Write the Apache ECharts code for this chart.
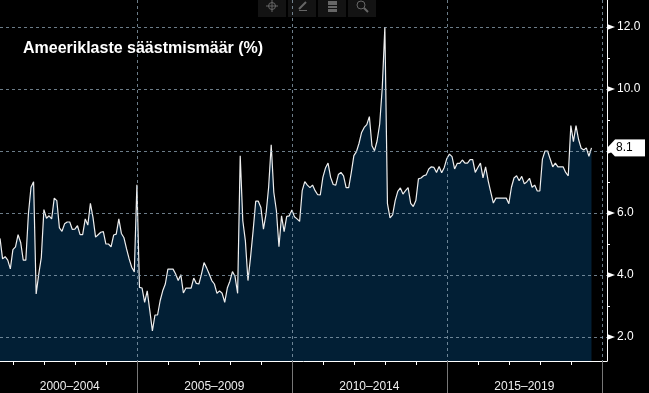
<!DOCTYPE html>
<html>
<head>
<meta charset="utf-8">
<script src="https://cdn.jsdelivr.net/npm/echarts@6/dist/echarts.min.js"></script>
<style>
html, body { margin: 0; padding: 0; background: #000; }
#main { width: 649px; height: 393px; }
</style>
</head>
<body>
<div id="main"></div>
<script>
// monthly saving rate, first point 2000-08
var savingRate = [
    5.18, 4.52, 4.59, 4.48, 4.2, 4.82, 4.91, 5.3, 5.05, 4.48, 4.48, 5.97, 6.83, 7.01, 3.39, 4.03,
    4.57, 6.11, 5.83, 5.91, 5.81, 6.48, 6.4, 5.52, 5.41, 5.65, 5.71, 5.71, 5.47, 5.48, 5.59, 5.3,
    5.3, 5.81, 5.61, 6.31, 5.86, 5.22, 5.3, 5.38, 5.4, 5.0, 5.0, 4.91, 5.29, 5.32, 5.81, 5.34,
    5.2, 4.84, 4.52, 4.25, 4.1, 6.91, 3.6, 3.58, 3.12, 3.49, 2.85, 2.2, 2.71, 2.71, 3.17, 3.49,
    3.71, 4.19, 4.19, 4.19, 4.03, 3.82, 4.01, 3.42, 3.58, 3.58, 3.58, 3.9, 3.73, 3.71, 4.03, 4.4,
    4.23, 4.03, 3.82, 3.71, 3.41, 3.49, 3.41, 3.12, 3.58, 3.8, 4.11, 3.95, 3.41, 7.85, 5.75, 5.1,
    3.82, 4.57, 5.43, 6.38, 6.38, 6.18, 5.48, 5.97, 6.83, 8.2, 6.67, 6.08, 4.91, 5.91, 5.4, 5.89,
    5.91, 6.1, 5.88, 5.81, 5.73, 6.72, 7.01, 6.9, 6.82, 6.9, 6.72, 6.59, 6.58, 7.15, 7.45, 7.61,
    7.15, 6.92, 6.9, 7.24, 7.31, 7.2, 6.82, 6.82, 7.3, 7.85, 7.98, 8.25, 8.6, 8.76, 8.85, 9.11,
    8.17, 8.01, 8.33, 8.87, 10.05, 12.0, 6.3, 5.84, 5.94, 6.4, 6.7, 6.81, 6.61, 6.72, 6.82, 6.31,
    6.21, 6.4, 7.1, 7.13, 7.2, 7.23, 7.42, 7.49, 7.47, 7.31, 7.5, 7.3, 7.47, 7.76, 7.9, 7.82,
    7.42, 7.6, 7.6, 7.71, 7.61, 7.61, 7.72, 7.72, 7.31, 7.47, 7.61, 7.13, 7.49, 7.04, 6.67, 6.32,
    6.48, 6.48, 6.48, 6.48, 6.48, 6.3, 6.83, 7.13, 7.2, 7.04, 7.18, 6.94, 7.01, 7.12, 6.83, 6.9,
    6.71, 6.71, 7.74, 8.0, 8.0, 7.74, 7.49, 7.61, 7.49, 7.49, 7.49, 7.31, 7.2, 8.82, 8.3, 8.82,
    8.37, 8.09, 8.03, 8.1, 7.83, 8.1
];
var lastValue = 8.1;
var yMajorTicks = [2, 4, 6, 8, 10, 12];
var yAllTicks = [2, 3, 4, 5, 6, 7, 8, 9, 10, 11, 12];
var periodLabels = { '2002-11': '2000–2004', '2007-07': '2005–2009', '2012-07': '2010–2014', '2017-07': '2015–2019' };

var months = [];
for (var y = 2000; y <= 2020; y++) {
    for (var m = 1; m <= 12; m++) {
        var ym = y * 100 + m;
        if (ym >= 200008 && ym <= 202003) {
            months.push(y + '-' + (m < 10 ? '0' + m : m));
        }
    }
}
var lastMonth = months[months.length - 1];

function isYearStart(i) { return months[i].slice(5) === '01'; }
function isPeriodStart(i) { return isYearStart(i) && Number(months[i].slice(0, 4)) % 5 === 0; }

var dashColor = 'rgba(150,172,188,0.72)';
var toolbarX = [258, 288, 318, 348];

var myChart = echarts.init(document.getElementById('main'));
var option = {
    backgroundColor: '#000',
    animation: false,
    title: {
        text: 'Ameeriklaste säästmismäär (%)',
        left: 18,
        top: 36,
        textStyle: { color: '#fff', fontFamily: 'Liberation Sans', fontWeight: 'bold', fontSize: 16 }
    },
    grid: { left: -1, right: 42, top: 0, bottom: 32 },
    xAxis: [
        {
            type: 'category',
            data: months,
            boundaryGap: false,
            axisLine: { lineStyle: { color: '#fff', width: 1 } },
            axisTick: { length: 4, interval: function (i) { return isYearStart(i); }, lineStyle: { color: '#fff' } },
            axisLabel: { show: false },
            splitLine: { show: false }
        },
        {
            type: 'category',
            data: months,
            position: 'bottom',
            boundaryGap: false,
            z: 5,
            axisLine: { show: false },
            axisTick: { show: true, length: 32, interval: function (i) { return isPeriodStart(i); }, lineStyle: { color: '#777' } },
            axisLabel: {
                show: true,
                margin: 20,
                interval: function (i, v) { return periodLabels[v] !== undefined; },
                formatter: function (v) { return periodLabels[v] || ''; },
                color: '#eee',
                fontFamily: 'Liberation Sans',
                fontSize: 12
            },
            splitLine: {
                show: true,
                interval: function (i) { return isPeriodStart(i); },
                lineStyle: { color: dashColor, type: [3, 3], width: 1 }
            }
        }
    ],
    yAxis: [
        {
            type: 'value',
            position: 'right',
            min: 1.226,
            max: 12.871,
            axisLine: { show: true, lineStyle: { color: '#fff', width: 1 } },
            axisTick: { show: true, length: 3, customValues: yAllTicks, lineStyle: { color: '#fff' } },
            axisLabel: {
                show: true,
                margin: 10,
                padding: [2, 0, 0, 0],
                customValues: yMajorTicks,
                formatter: function (v) { return v.toFixed(1); },
                color: '#fff',
                fontFamily: 'Liberation Sans',
                fontSize: 12
            },
            splitLine: { show: false }
        },
        {
            type: 'value',
            position: 'right',
            min: 1.226,
            max: 12.871,
            z: 5,
            axisLine: { show: false },
            axisTick: { show: false, customValues: yMajorTicks },
            axisLabel: { show: false, customValues: yMajorTicks },
            splitLine: { show: true, lineStyle: { color: dashColor, type: [3, 3], width: 1 } }
        }
    ],
    series: [
        {
            type: 'line',
            data: savingRate,
            symbol: 'none',
            lineStyle: { color: '#eee', width: 1.2 },
            areaStyle: { color: '#021f35', opacity: 1, origin: 'start' }
        },
        {
            // flags on the price axis
            type: 'scatter',
            data: yMajorTicks.map(function (v) { return [lastMonth, v]; }),
            clip: false,
            z: 6,
            symbol: 'triangle',
            symbolSize: [6, 8],
            symbolRotate: -90,
            symbolOffset: [4, 0],
            itemStyle: { color: '#fff', opacity: 1 }
        },
        {
            // last value box
            type: 'scatter',
            data: [[lastMonth, lastValue]],
            clip: false,
            z: 7,
            symbol: 'triangle',
            symbolSize: [17, 8],
            symbolRotate: 90,
            symbolOffset: [4, 0],
            itemStyle: { color: '#fff', opacity: 1 },
            label: {
                show: true,
                position: 'right',
                distance: 0,
                formatter: function () { return lastValue.toFixed(1); },
                backgroundColor: '#fff',
                color: '#000',
                fontFamily: 'Liberation Sans',
                fontSize: 12,
                width: 29,
                height: 17,
                lineHeight: 17,
                align: 'left',
                padding: [0, 0, 0, 1]
            }
        }
    ],
    graphic: toolbarX.map(function (x) {
        return { type: 'rect', shape: { x: x, y: 0, width: 28, height: 17 }, style: { fill: '#131313' }, z: 1 };
    }).concat([
        { type: 'circle', shape: { cx: 272, cy: 6, r: 3.5 }, style: { fill: 'none', stroke: '#666' }, z: 2 },
        { type: 'line', shape: { x1: 266, y1: 6, x2: 278, y2: 6 }, style: { stroke: '#666' }, z: 2 },
        { type: 'line', shape: { x1: 272, y1: 0, x2: 272, y2: 12 }, style: { stroke: '#666' }, z: 2 },
        { type: 'line', shape: { x1: 299, y1: 9, x2: 306, y2: 2 }, style: { stroke: '#666', lineWidth: 2 }, z: 2 },
        { type: 'line', shape: { x1: 299, y1: 10.5, x2: 307, y2: 10.5 }, style: { stroke: '#666' }, z: 2 },
        { type: 'rect', shape: { x: 328, y: 1, width: 9, height: 11 }, style: { fill: '#666' }, z: 2 },
        { type: 'line', shape: { x1: 328, y1: 5.5, x2: 337, y2: 5.5 }, style: { stroke: '#131313' }, z: 3 },
        { type: 'line', shape: { x1: 328, y1: 8.5, x2: 337, y2: 8.5 }, style: { stroke: '#131313' }, z: 3 },
        { type: 'circle', shape: { cx: 361, cy: 5, r: 4 }, style: { fill: 'none', stroke: '#666' }, z: 2 },
        { type: 'line', shape: { x1: 364, y1: 8, x2: 368, y2: 12 }, style: { stroke: '#666', lineWidth: 2 }, z: 2 }
    ])
};
myChart.setOption(option);
</script>
</body>
</html>
